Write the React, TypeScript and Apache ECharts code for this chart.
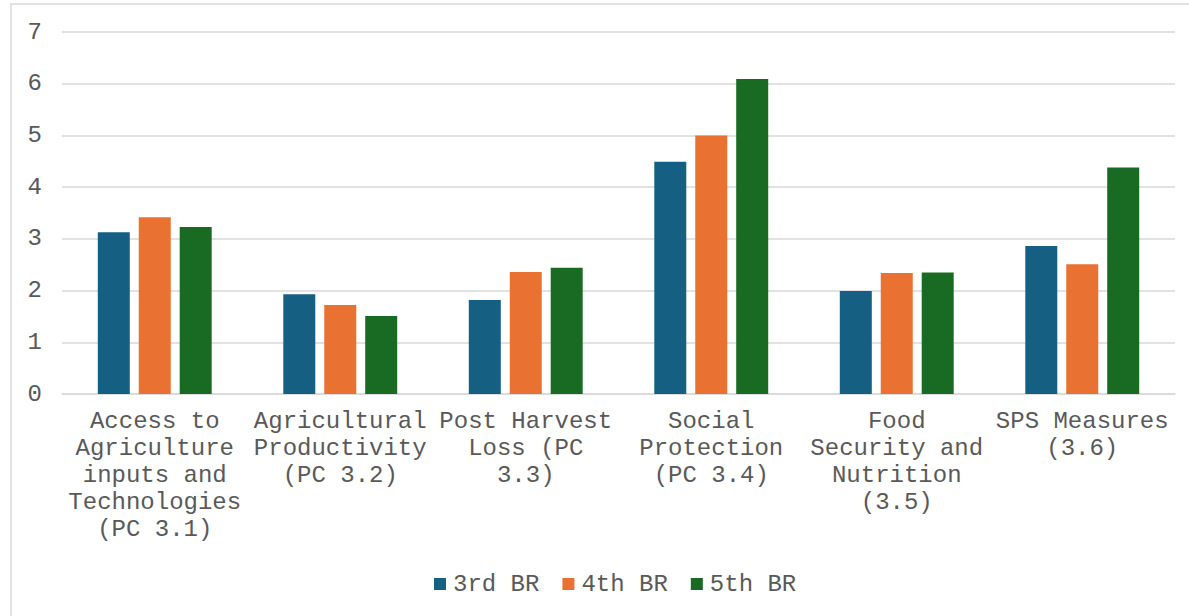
import React, { useEffect, useRef } from "react";
import * as echarts from "echarts";

const categories = [
  "Access to Agriculture inputs and Technologies (PC 3.1)",
  "Agricultural Productivity (PC 3.2)",
  "Post Harvest Loss (PC 3.3)",
  "Social Protection (PC 3.4)",
  "Food Security and Nutrition (3.5)",
  "SPS Measures (3.6)",
];
const seriesNames = ["3rd BR", "4th BR", "5th BR"];
const br3 = [3.13, 1.93, 1.82, 4.49, 1.99, 2.86];
const br4 = [3.42, 1.72, 2.36, 5.0, 2.34, 2.51];
const br5 = [3.23, 1.51, 2.44, 6.09, 2.35, 4.38];
const colors = ["#156082", "#E97132", "#196B24"];

const FONT = '"Courier New", Courier, "Nimbus Mono PS", FreeMono, "Liberation Mono", monospace';
const TEXT = "#595959";

function wrap(s: string, max: number): string {
  const words = s.split(" ");
  const lines: string[] = [];
  let cur = "";
  for (const w of words) {
    if (!cur) cur = w;
    else if ((cur + " " + w).length <= max) cur = cur + " " + w;
    else {
      lines.push(cur);
      cur = w;
    }
  }
  if (cur) lines.push(cur);
  return lines.join("\n");
}

export default function App() {
  const ref = useRef<HTMLDivElement>(null);
  useEffect(() => {
    if (!ref.current) return;
    const chart = echarts.init(ref.current, undefined, { renderer: "svg" });
    const data = [br3, br4, br5];
    chart.setOption({
      animation: false,
      backgroundColor: "#ffffff",
      textStyle: { fontFamily: FONT },
      graphic: [
        {
          type: "rect",
          shape: { x: 11, y: 4, width: 1200, height: 630 },
          style: { fill: "none", stroke: "#d9d9d9", lineWidth: 1.5 },
          silent: true,
        },
      ],
      grid: { left: 62, right: 14, top: 32, bottom: 222, containLabel: false },
      legend: {
        data: seriesNames,
        left: 429,
        top: 567,
        icon: "rect",
        itemWidth: 12,
        itemHeight: 12,
        itemGap: 23,
        textStyle: { color: TEXT, fontFamily: FONT, fontSize: 24, padding: [0, 0, 0, 2] },
      },
      xAxis: {
        type: "category",
        data: categories,
        axisLine: { lineStyle: { color: "#d9d9d9", width: 1.5 } },
        axisTick: { show: false },
        axisLabel: {
          interval: 0,
          color: TEXT,
          fontFamily: FONT,
          fontSize: 24,
          lineHeight: 27,
          margin: 14,
          formatter: (v: string) => wrap(v, 12),
        },
      },
      yAxis: {
        type: "value",
        min: 0,
        max: 7,
        interval: 1,
        axisLine: { show: false },
        axisTick: { show: false },
        splitLine: { lineStyle: { color: "#d9d9d9", width: 1.5 } },
        axisLabel: { color: TEXT, fontFamily: FONT, fontSize: 24, margin: 20 },
      },
      series: seriesNames.map((name, i) => ({
        name,
        type: "bar",
        data: data[i],
        barWidth: 32,
        barGap: "28%",
        itemStyle: { color: colors[i] },
      })),
    });
    return () => chart.dispose();
  }, []);
  return (
    <div
      ref={ref}
      style={{ position: "fixed", left: 0, top: 0, width: 1189, height: 616 }}
    />
  );
}
